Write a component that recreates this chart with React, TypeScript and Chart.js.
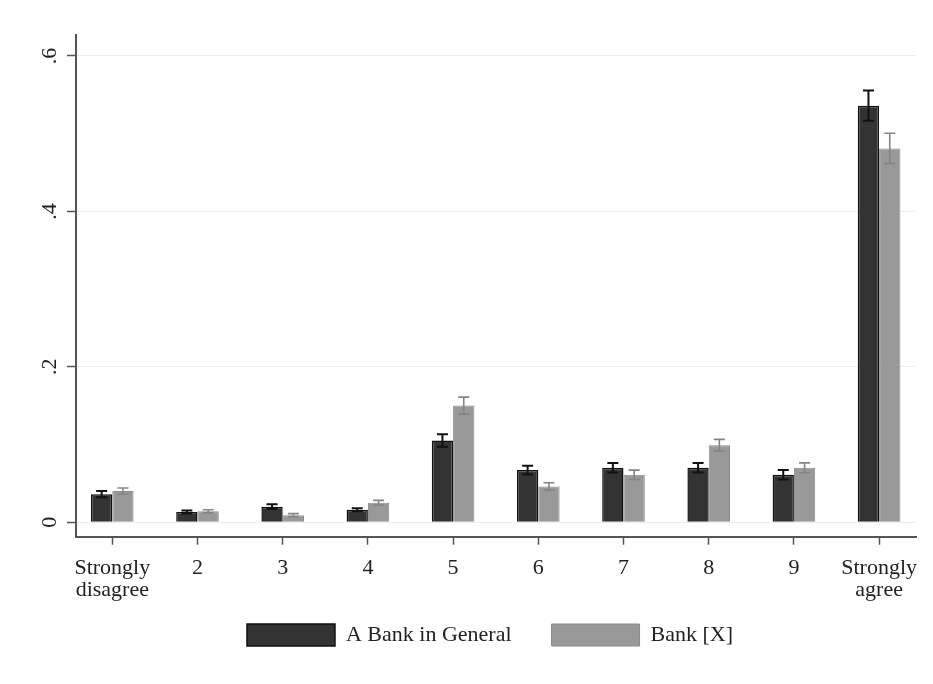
import React, { useEffect, useRef } from "react";
import { Chart, registerables } from "chart.js";

Chart.register(...registerables);

const categories: (string | string[])[] = [
  ["Strongly", "disagree"], "2", "3", "4", "5", "6", "7", "8", "9", ["Strongly", "agree"],
];
const seriesNames = ["A Bank in General", "Bank [X]"];
const generalValues = [0.036, 0.013, 0.020, 0.016, 0.105, 0.067, 0.070, 0.070, 0.061, 0.536];
const generalErrors = [0.004, 0.002, 0.003, 0.002, 0.008, 0.0055, 0.006, 0.006, 0.006, 0.0195];
const bankXValues = [0.040, 0.014, 0.009, 0.025, 0.150, 0.046, 0.061, 0.099, 0.070, 0.481];
const bankXErrors = [0.004, 0.002, 0.002, 0.003, 0.011, 0.0047, 0.006, 0.0076, 0.0063, 0.0195];
const yTickValues = [0, 0.2, 0.4, 0.6];
const yTickLabels = ["0", ".2", ".4", ".6"];

const FONT = "'Liberation Serif', 'Times New Roman', serif";

const seriesValues = [generalValues, bankXValues];
const seriesErrors = [generalErrors, bankXErrors];
const errorColors = ["#111111", "#858585"];
const errorWidths = [2, 1.6];

const errorBarPlugin = {
  id: "errorBarsAndYLabels",
  afterLayout(chart: any) {
    const lg = chart.legend;
    if (lg) {
      lg.top -= 24.7;
      lg.bottom -= 24.7;
    }
  },
  afterDatasetsDraw(chart: any) {
    const { ctx } = chart;
    const yScale = chart.scales.y;
    seriesErrors.forEach((errs, d) => {
      const meta = chart.getDatasetMeta(d);
      meta.data.forEach((bar: any, i: number) => {
        const x = bar.x;
        const v = seriesValues[d][i];
        const top = yScale.getPixelForValue(v + errs[i]);
        const bot = yScale.getPixelForValue(v - errs[i]);
        const cap = 5.5;
        ctx.save();
        ctx.strokeStyle = errorColors[d];
        ctx.lineWidth = errorWidths[d];
        ctx.beginPath();
        ctx.moveTo(x, top);
        ctx.lineTo(x, bot);
        ctx.moveTo(x - cap, top);
        ctx.lineTo(x + cap, top);
        ctx.moveTo(x - cap, bot);
        ctx.lineTo(x + cap, bot);
        ctx.stroke();
        ctx.restore();
      });
    });
  },
  afterDraw(chart: any) {
    const { ctx } = chart;
    const yScale = chart.scales.y;
    ctx.save();
    ctx.fillStyle = "#222222";
    ctx.font = `22px ${FONT}`;
    ctx.textAlign = "center";
    ctx.textBaseline = "middle";
    yTickValues.forEach((v, i) => {
      const py = yScale.getPixelForValue(v);
      ctx.save();
      ctx.translate(50, py);
      ctx.rotate(-Math.PI / 2);
      ctx.fillText(yTickLabels[i], 0, 0);
      ctx.restore();
    });
    ctx.restore();
  },
};

export default function App() {
  const canvasRef = useRef<HTMLCanvasElement | null>(null);

  useEffect(() => {
    if (!canvasRef.current) return;
    const chart = new Chart(canvasRef.current, {
      type: "bar",
      data: {
        datasets: [
          {
            label: seriesNames[0],
            data: generalValues.map((v, i) => ({ x: i, y: v })),
            backgroundColor: "#333333",
            borderColor: "#111111",
            borderWidth: 1.5,
            categoryPercentage: 0.5,
            barPercentage: 1,
          },
          {
            label: seriesNames[1],
            data: bankXValues.map((v, i) => ({ x: i, y: v })),
            backgroundColor: "#999999",
            borderColor: "#8a8a8a",
            borderWidth: 1,
            categoryPercentage: 0.5,
            barPercentage: 1,
          },
        ],
      } as any,
      options: {
        animation: false,
        responsive: true,
        maintainAspectRatio: false,
        layout: { padding: { left: 64, right: 17, top: 35, bottom: 3.3 } },
        plugins: {
          legend: {
            position: "bottom",
            align: "center",
            labels: {
              boxWidth: 88,
              boxHeight: 22,
              padding: 40,
              color: "#222222",
              font: { family: FONT, size: 22 },
            },
          },
          tooltip: { enabled: false },
        },
        scales: {
          x: {
            type: "linear",
            offset: false,
            min: -0.426,
            max: 9.433,
            afterBuildTicks: (s: any) => {
              s.ticks = categories.map((_, i) => ({ value: i }));
            },
            afterFit: (s: any) => {
              s.height = 72;
            },
            grid: {
              offset: false,
              drawOnChartArea: false,
              drawTicks: true,
              tickLength: 8,
              tickColor: "#555555",
              tickWidth: 1.5,
            },
            border: { display: true, color: "#555555", width: 2 },
            ticks: {
              autoSkip: false,
              maxRotation: 0,
              minRotation: 0,
              padding: 13,
              color: "#222222",
              font: { family: FONT, size: 22, lineHeight: 1 },
              callback: (_v: any, index: number) => categories[index] as any,
            },
          },
          y: {
            min: -0.0187,
            max: 0.627,
            afterBuildTicks: (s: any) => {
              s.ticks = yTickValues.map((v) => ({ value: v }));
            },
            afterFit: (s: any) => {
              s.width = 12;
            },
            grid: {
              color: "#ececec",
              lineWidth: 1,
              tickLength: 9,
              tickColor: "#555555",
              tickWidth: 1.5,
            },
            border: { display: true, color: "#555555", width: 2 },
            ticks: { display: false },
          },
        },
      } as any,
      plugins: [errorBarPlugin],
    });
    return () => chart.destroy();
  }, []);

  return (
    <div
      style={{
        position: "fixed",
        left: 0,
        top: 0,
        width: 933,
        height: 684,
        background: "#ffffff",
      }}
    >
      <canvas ref={canvasRef} />
    </div>
  );
}
